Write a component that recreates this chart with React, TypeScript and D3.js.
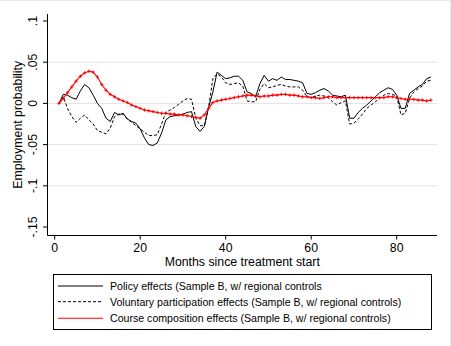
import React from 'react'
import { scaleLinear, line } from 'd3'

const months = Array.from({ length: 88 }, (_, i) => i + 1)

const policy = [
  0, 0.011, 0.010, 0.007, 0.005, 0.015, 0.023, 0.019, 0.010, 0.000,
  -0.006, -0.018, -0.022, -0.011, -0.014, -0.012, -0.019, -0.022, -0.024, -0.031,
  -0.042, -0.050, -0.051, -0.048, -0.036, -0.020, -0.016, -0.015, -0.014, -0.013,
  -0.011, -0.010, -0.028, -0.034, -0.028, -0.005, 0.014, 0.038, 0.034, 0.030,
  0.031, 0.033, 0.033, 0.028, 0.014, 0.012, 0.008, 0.024, 0.034, 0.027,
  0.030, 0.028, 0.032, 0.029, 0.029, 0.028, 0.027, 0.025, 0.012, 0.011,
  0.013, 0.016, 0.018, 0.015, 0.010, 0.009, 0.008, 0.010, -0.018, -0.018,
  -0.011, -0.006, -0.002, 0.003, 0.008, 0.013, 0.016, 0.019, 0.017, 0.010,
  -0.006, -0.006, 0.012, 0.016, 0.020, 0.023, 0.030, 0.032,
]

const voluntary = [
  0, 0.008, -0.006, -0.016, -0.023, -0.018, -0.014, -0.020, -0.025, -0.033,
  -0.035, -0.037, -0.030, -0.016, -0.013, -0.013, -0.019, -0.023, -0.027, -0.031,
  -0.035, -0.039, -0.039, -0.038, -0.025, -0.011, -0.008, -0.005, -0.001, 0.003,
  0.006, 0.005, -0.018, -0.027, -0.027, -0.005, 0.030, 0.036, 0.032, 0.025,
  0.023, 0.024, 0.025, 0.021, 0.003, 0.002, 0.002, 0.017, 0.024, 0.019,
  0.020, 0.022, 0.023, 0.021, 0.020, 0.020, 0.020, 0.016, 0.008, 0.007,
  0.009, 0.010, 0.009, 0.007, 0.002, -0.002, 0.001, 0.003, -0.025, -0.024,
  -0.019, -0.013, -0.006, -0.002, 0.002, 0.006, 0.010, 0.012, 0.011, 0.009,
  -0.014, -0.012, 0.006, 0.014, 0.018, 0.021, 0.027, 0.028,
]

const course = [
  0.000, 0.006, 0.013, 0.020, 0.027, 0.033, 0.037, 0.039, 0.038, 0.032,
  0.023, 0.016, 0.011, 0.008, 0.005, 0.003, 0.001, -0.002, -0.004, -0.006,
  -0.008, -0.009, -0.010, -0.011, -0.012, -0.012, -0.013, -0.013, -0.014, -0.014,
  -0.015, -0.016, -0.017, -0.018, -0.014, -0.006, 0.001, 0.003, 0.004, 0.005,
  0.006, 0.007, 0.008, 0.009, 0.010, 0.010, 0.009, 0.008, 0.009, 0.009,
  0.010, 0.010, 0.011, 0.011, 0.010, 0.010, 0.009, 0.008, 0.008, 0.007,
  0.007, 0.006, 0.007, 0.008, 0.008, 0.007, 0.007, 0.007, 0.007, 0.007,
  0.007, 0.007, 0.007, 0.007, 0.007, 0.007, 0.007, 0.008, 0.008, 0.007,
  0.006, 0.005, 0.005, 0.005, 0.004, 0.004, 0.003, 0.004,
]

const xTicks = [0, 20, 40, 60, 80]
const yTicks = [-0.15, -0.1, -0.05, 0, 0.05, 0.1]
const yTickLabels = ['-.15', '-.1', '-.05', '0', '.05', '.1']
const gridTicks = [-0.1, -0.05, 0, 0.05]
const legendLabels = [
  'Policy effects (Sample B, w/ regional controls',
  'Voluntary participation effects (Sample B, w/ regional controls)',
  'Course composition effects (Sample B, w/ regional controls)',
]

const font = 'Liberation Sans, Arial, sans-serif'

export default function App() {
  const width = 451
  const height = 346
  const plot = { left: 47.5, right: 437, top: 14, bottom: 235.5 }

  const x = scaleLinear().domain([0, 80]).range([54.7, 396.7])
  const y = scaleLinear().domain([-0.15, 0.1]).range([227, 21])

  const mk = (vals: number[]) =>
    line<number>().x((_, i) => x(months[i])).y(d => y(d))(vals) || ''

  const series = [
    { vals: policy, color: '#000', dash: undefined, w: 1 },
    { vals: voluntary, color: '#000', dash: '3,2', w: 1 },
    { vals: course, color: '#ff0000', dash: undefined, w: 1.1 },
  ]

  const legendRows = [286, 301.7, 318.3]

  return (
    <svg width={width} height={height} style={{ position: 'absolute', left: 0, top: 0, background: '#fff' }}>
      <line x1={0} x2={width} y1={0.5} y2={0.5} stroke="#e8e8e8" />
      <line x1={450.5} x2={450.5} y1={0} y2={height} stroke="#e8e8e8" />

      {gridTicks.map(t => (
        <line key={t} x1={plot.left} x2={plot.right} y1={y(t)} y2={y(t)} stroke="#e4e4e4" strokeWidth={1} />
      ))}

      {series.map((s, i) => (
        <path key={i} d={mk(s.vals)} fill="none" stroke={s.color} strokeWidth={s.w} strokeDasharray={s.dash} strokeLinejoin="round" />
      ))}
      {course.map((v, i) => (
        <path key={i} d={`M${x(months[i]) - 1.7},${y(v)}h3.4M${x(months[i])},${y(v) - 1.7}v3.4`} stroke="#ff0000" strokeWidth={0.9} />
      ))}

      {/* y axis */}
      <line x1={plot.left} x2={plot.left} y1={plot.top} y2={plot.bottom} stroke="#000" />
      {yTicks.map((t, i) => (
        <g key={t} transform={`translate(${plot.left},${y(t)})`}>
          <line x1={-4.5} x2={0} stroke="#000" />
          <text transform="translate(-10.5,0) rotate(-90)" textAnchor="middle" fontFamily={font} fontSize={12.3} fill="#000">
            {yTickLabels[i]}
          </text>
        </g>
      ))}
      <text transform={`translate(22,${(plot.top + plot.bottom) / 2}) rotate(-90)`} textAnchor="middle" fontFamily={font} fontSize={12.3} fill="#000">
        Employment probability
      </text>

      {/* x axis */}
      <line x1={plot.left} x2={plot.right} y1={plot.bottom} y2={plot.bottom} stroke="#000" />
      {xTicks.map(t => (
        <g key={t} transform={`translate(${x(t)},${plot.bottom})`}>
          <line y1={0} y2={4} stroke="#000" />
          <text y={16.3} textAnchor="middle" fontFamily={font} fontSize={12.3} fill="#000">{t}</text>
        </g>
      ))}
      <text x={(plot.left + plot.right) / 2} y={266} textAnchor="middle" fontFamily={font} fontSize={12.3} fill="#000">
        Months since treatment start
      </text>

      {/* legend */}
      <rect x={53.5} y={274.5} width={378} height={55} fill="#fff" stroke="#000" />
      {legendRows.map((ry, i) => (
        <g key={i}>
          <line x1={58} x2={103} y1={ry} y2={ry} stroke={series[i].color} strokeWidth={series[i].w} strokeDasharray={series[i].dash} />
          <text x={110} y={ry + 3.8} fontFamily={font} fontSize={10.6} fill="#000">{legendLabels[i]}</text>
        </g>
      ))}
    </svg>
  )
}
